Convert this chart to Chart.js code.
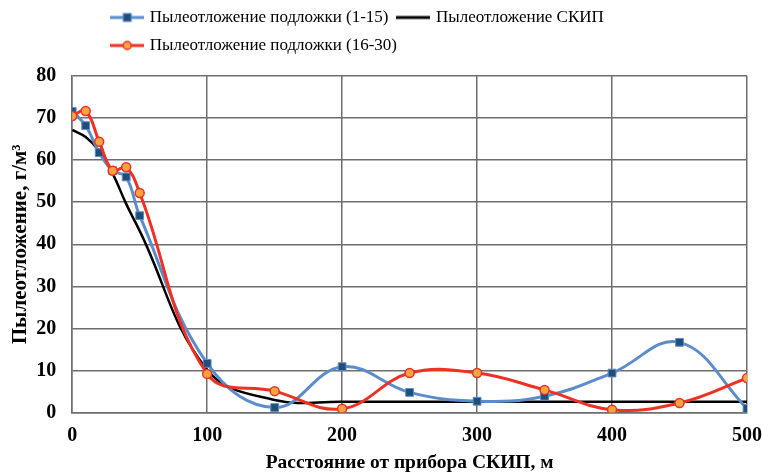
<!DOCTYPE html>
<html>
<head>
<meta charset="utf-8">
<script src="https://cdn.jsdelivr.net/npm/chart.js@4"></script>
<style>
  html, body { margin: 0; padding: 0; background: #fff; }
</style>
</head>
<body>
<canvas id="dustChart" width="763" height="475"></canvas>
<script>
// расстояние от прибора, м
var distance = [0, 10, 20, 30, 40, 50, 100, 150, 200, 250, 300, 350, 400, 450, 500];
// пылеотложение, г/м3
var dustPlates1 = [71.6, 68.2, 61.8, 57.5, 56.0, 46.8, 11.7, 1.2, 10.9, 4.8, 2.7, 3.9, 9.4, 16.7, 1.0];
var dustPlates2 = [70.5, 71.7, 64.4, 57.5, 58.3, 52.2, 9.2, 5.1, 0.9, 9.4, 9.4, 5.4, 0.7, 2.3, 8.2];
var dustSkip = [67.2, 65.5, 62.2, 56.8, 49.6, 43.2, 10.2, 3.0, 2.6, 2.6, 2.6, 2.6, 2.6, 2.6, 2.6];
var yTicks = [0, 10, 20, 30, 40, 50, 60, 70, 80];

var labelNames = ['Пылеотложение подложки (1-15)', 'Пылеотложение СКИП', 'Пылеотложение подложки (16-30)'];

var gridColor = '#6e6e6e';

function points(ys) {
    return distance.map(function (x, i) { return { x: x, y: ys[i] }; });
}

// значок легенды: линия с маркером посередине
function legendIcon(lineColor, marker, fill) {
    var c = document.createElement('canvas');
    c.width = 34; c.height = 12;
    var g = c.getContext('2d');
    g.strokeStyle = lineColor;
    g.lineWidth = 3;
    g.beginPath(); g.moveTo(0, 6); g.lineTo(34, 6); g.stroke();
    if (marker === 'rect') {
        g.fillStyle = fill;
        g.fillRect(13, 2, 8, 8);
        g.lineWidth = 1;
        g.strokeRect(13, 2, 8, 8);
    } else if (marker === 'circle') {
        g.fillStyle = fill;
        g.beginPath(); g.arc(17, 6, 4, 0, Math.PI * 2); g.fill();
        g.lineWidth = 1.5; g.stroke();
    }
    return c;
}

var icons = [
    legendIcon('#5b8ccb', 'rect', '#1f4e79'),
    legendIcon('#000000', null),
    legendIcon('#ee3124', 'circle', '#f9a341')
];

// легенду сдвигаем вправо и вверх относительно её блока
var legendShift = {
    id: 'legendShift',
    afterLayout: function (chart) {
        var lg = chart.legend;
        lg.left += 30; lg.right += 30;
        lg.top -= 12; lg.bottom -= 12;
    }
};

var ctx = document.getElementById('dustChart').getContext('2d');
var chart = new Chart(ctx, {
    type: 'line',
    data: {
        datasets: [{
            label: labelNames[0],
            data: points(dustPlates1),
            borderColor: '#5b8ccb',
            borderWidth: 3,
            backgroundColor: '#1f4e79',
            pointStyle: 'rect',
            pointRadius: 5.5,
            pointBorderColor: '#5b8ccb',
            pointBorderWidth: 1,
            tension: 0.4,
            order: 2
        }, {
            label: labelNames[1],
            data: points(dustSkip),
            borderColor: '#000000',
            borderWidth: 2.5,
            pointRadius: 0,
            tension: 0.4,
            order: 3
        }, {
            label: labelNames[2],
            data: points(dustPlates2),
            borderColor: '#ee3124',
            borderWidth: 3,
            backgroundColor: '#f9a341',
            pointStyle: 'circle',
            pointRadius: 4.5,
            pointBorderColor: '#ee3124',
            pointBorderWidth: 1.5,
            tension: 0.4,
            order: 1
        }]
    },
    options: {
        responsive: false,
        animation: false,
        devicePixelRatio: 1,
        layout: { padding: { left: 0, right: 1, top: 10, bottom: 0 } },
        plugins: {
            legend: {
                position: 'top',
                align: 'start',
                fullSize: false,
                labels: {
                    usePointStyle: true,
                    pointStyleWidth: 28,
                    padding: 11,
                    color: '#000',
                    font: { family: 'Liberation Serif', size: 17 },
                    sort: function (a, b) { return a.datasetIndex - b.datasetIndex; },
                    generateLabels: function (chart) {
                        return chart.data.datasets.map(function (ds, i) {
                            return {
                                text: ds.label,
                                pointStyle: icons[i],
                                fillStyle: 'transparent',
                                strokeStyle: 'transparent',
                                lineWidth: 0,
                                fontColor: '#000',
                                datasetIndex: i
                            };
                        });
                    }
                }
            },
            tooltip: { enabled: false }
        },
        scales: {
            x: {
                type: 'linear',
                min: 0,
                max: 500,
                afterFit: function (axis) {
                    // края подписей 0 и 500 без лишнего запаса
                    axis.paddingLeft = 5;
                    axis.paddingRight = 16;
                },
                grid: { color: gridColor, lineWidth: 1.5, drawTicks: false },
                border: { color: gridColor, width: 1.5 },
                ticks: {
                    stepSize: 100,
                    padding: 11,
                    color: '#000',
                    font: { family: 'Liberation Serif', size: 20, weight: 'bold' }
                },
                title: {
                    display: true,
                    text: 'Расстояние от прибора СКИП, м',
                    color: '#000',
                    padding: { top: -7, bottom: 0 },
                    font: { family: 'Liberation Serif', size: 19.5, weight: 'bold' }
                }
            },
            y: {
                min: 0,
                max: 80,
                afterBuildTicks: function (axis) {
                    axis.ticks = yTicks.map(function (v) { return { value: v }; });
                },
                grid: { color: gridColor, lineWidth: 1.5, drawTicks: false },
                border: { color: gridColor, width: 1.5 },
                ticks: {
                    padding: 16,
                    color: '#000',
                    font: { family: 'Liberation Serif', size: 20, weight: 'bold' }
                },
                title: {
                    display: true,
                    text: 'Пылеотложение, г/м³',
                    color: '#000',
                    padding: { top: 8, bottom: -13 },
                    font: { family: 'Liberation Serif', size: 21, weight: 'bold' }
                }
            }
        }
    },
    plugins: [legendShift]
});
</script>
</body>
</html>
